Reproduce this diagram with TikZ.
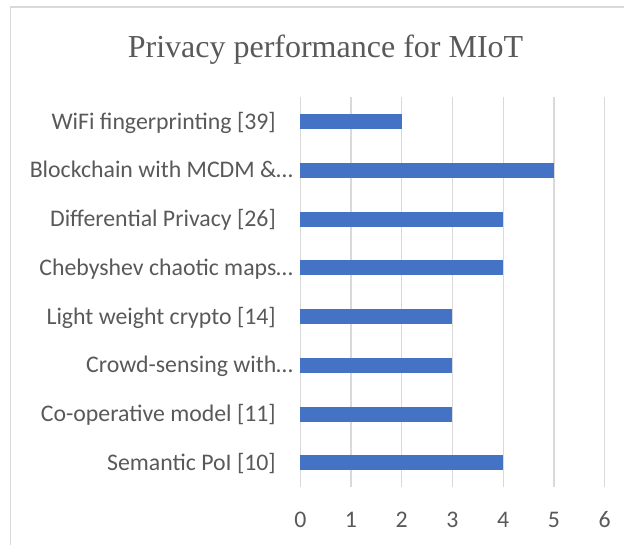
\documentclass[tikz,border=0pt]{standalone}
\usepackage{fontspec}
\setmainfont{Carlito}
\newfontfamily\titlefont{Liberation Serif}
\definecolor{custom-blue}{RGB}{68, 114, 196}
\definecolor{custom-grid}{RGB}{217, 217, 217}
\definecolor{custom-text}{RGB}{89, 89, 89}

\begin{document}
\begin{tikzpicture}[x=1pt, y=-1pt,
    bar/.style={fill=custom-blue},
    gridline/.style={draw=custom-grid, line width=1.2pt},
    catlabel/.style={anchor=base east, inner sep=0pt, text=custom-text, font=\fontsize{23.8}{28}\selectfont},
    ticklabel/.style={anchor=base, inner sep=0pt, text=custom-text, font=\fontsize{23.8}{28}\selectfont}]
\useasboundingbox (0,0) rectangle (624,544);
\clip (0,0) rectangle (624,544);
\draw[draw=custom-grid, line width=1.2pt] (10.5,7) rectangle (700,700);
\node[anchor=base, inner sep=0pt, text=custom-text, font=\titlefont\fontsize{32}{38}\selectfont] (title) at (325.5,57) {Privacy performance for MIoT};
\foreach \t in {0,...,6} {
    \draw[gridline] ({300.3+\t*50.72},97) -- ({300.3+\t*50.72},487);
    \node[ticklabel] (tick-\t) at ({300.3+\t*50.72},527.5) {\t};
}
\foreach \name/\val/\xr [count=\k from 0] in {
    {WiFi fingerprinting [39]}/2/276,
    {Blockchain with MCDM \&…}/5/293,
    {Differential Privacy [26]}/4/276,
    {Chebyshev chaotic maps…}/4/293,
    {Light weight crypto [14]}/3/276,
    {Crowd-sensing with…}/3/293,
    {Co-operative model [11]}/3/276,
    {Semantic PoI [10]}/4/276} {
    \fill[bar] (300.3,{121.6+\k*48.75-7.5}) rectangle ({300.3+\val*50.72},{121.6+\k*48.75+7.5});
    \node[catlabel] (cat-\k) at (\xr,{121.6+\k*48.75+7.5}) {\name};
}
\end{tikzpicture}
\end{document}
